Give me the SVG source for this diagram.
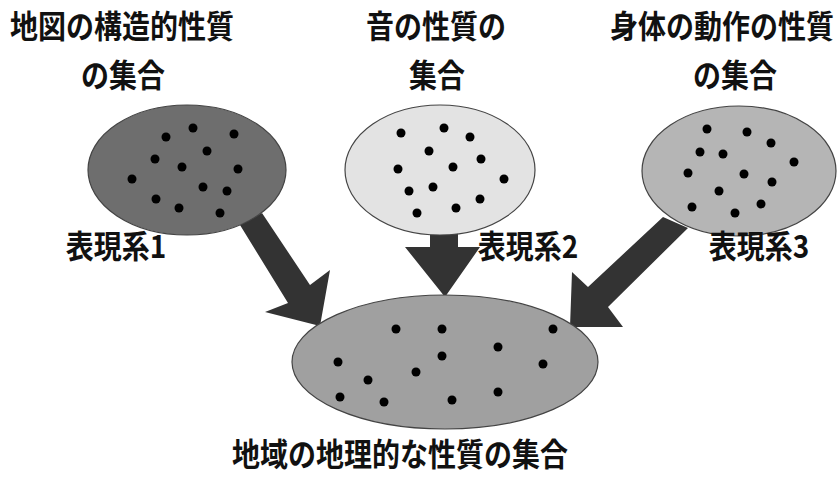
<svg xmlns="http://www.w3.org/2000/svg" width="837" height="479" viewBox="0 0 837 479">
<style>
.t{font-family:"Noto Sans CJK JP","Noto Sans CJK SC",sans-serif;font-weight:bold;font-size:28px;fill:#111;text-anchor:middle}
.arr{fill:#333333}
.el{stroke:#444;stroke-width:1.2}
.d{fill:#000}
</style>
<rect width="837" height="479" fill="#ffffff"/>
<g id="connectors">
<polygon class="arr" points="240,225 262,213 310,285 330,270 320,326 265,312 288,303"/>
<polygon class="arr" points="430,232 458,232 458,247 480,247 445,297 405,247 430,247"/>
<polygon class="arr" points="663,217 688,228 608,307 623,327 570,327 572,272 588,287"/>
</g>
<g id="set1">
<ellipse class="el" cx="187" cy="170" rx="99" ry="65" fill="#6e6e6e"/>
<g class="d">
<circle cx="193" cy="128" r="4.5"/><circle cx="166" cy="137" r="4.5"/><circle cx="234" cy="134" r="4.5"/>
<circle cx="207" cy="151" r="4.5"/><circle cx="155" cy="159" r="4.5"/><circle cx="182" cy="167" r="4.5"/>
<circle cx="238" cy="169" r="4.5"/><circle cx="132" cy="179" r="4.5"/><circle cx="203" cy="187" r="4.5"/>
<circle cx="227" cy="191" r="4.5"/><circle cx="156" cy="199" r="4.5"/><circle cx="179" cy="208" r="4.5"/>
<circle cx="220" cy="213" r="4.5"/>
</g>
<text class="t" transform="translate(122,38) scale(1,1.12)">地図の構造的性質</text>
<text class="t" transform="translate(123,87) scale(1,1.12)">の集合</text>
<text class="t" transform="translate(116,258) scale(1,1.12)">表現系1</text>
</g>
<g id="set2">
<ellipse class="el" cx="440" cy="170" rx="95" ry="65" fill="#e3e3e3"/>
<g class="d">
<circle cx="401" cy="133" r="4.5"/><circle cx="444" cy="128" r="4.5"/><circle cx="470" cy="137" r="4.5"/>
<circle cx="429" cy="151" r="4.5"/><circle cx="481" cy="159" r="4.5"/><circle cx="398" cy="169" r="4.5"/>
<circle cx="453" cy="167" r="4.5"/><circle cx="504" cy="179" r="4.5"/><circle cx="409" cy="191" r="4.5"/>
<circle cx="433" cy="187" r="4.5"/><circle cx="480" cy="199" r="4.5"/><circle cx="417" cy="213" r="4.5"/>
<circle cx="456" cy="208" r="4.5"/>
</g>
<text class="t" transform="translate(436,38) scale(1,1.12)">音の性質の</text>
<text class="t" transform="translate(437,87) scale(1,1.12)">集合</text>
<text class="t" transform="translate(528,258) scale(1,1.12)">表現系2</text>
</g>
<g id="set3">
<ellipse class="el" cx="739" cy="171" rx="97" ry="65" fill="#b5b5b5"/>
<g class="d">
<circle cx="707" cy="129" r="4.5"/><circle cx="747" cy="132" r="4.5"/><circle cx="771" cy="143" r="4.5"/>
<circle cx="700" cy="152" r="4.5"/><circle cx="723" cy="154" r="4.5"/><circle cx="794" cy="162" r="4.5"/>
<circle cx="688" cy="173" r="4.5"/><circle cx="744" cy="174" r="4.5"/><circle cx="772" cy="182" r="4.5"/>
<circle cx="719" cy="191" r="4.5"/><circle cx="692" cy="207" r="4.5"/><circle cx="735" cy="213" r="4.5"/>
<circle cx="761" cy="204" r="4.5"/>
</g>
<text class="t" transform="translate(722,38) scale(1,1.12)">身体の動作の性質</text>
<text class="t" transform="translate(735,87) scale(1,1.12)">の集合</text>
<text class="t" transform="translate(759,258) scale(1,1.12)">表現系3</text>
</g>
<g id="geo">
<ellipse class="el" cx="445" cy="362" rx="153" ry="67" fill="#a0a0a0"/>
<g class="d">
<circle cx="396" cy="329" r="4.5"/><circle cx="442" cy="329" r="4.5"/><circle cx="553" cy="329" r="4.5"/>
<circle cx="498" cy="347" r="4.5"/><circle cx="442" cy="356" r="4.5"/><circle cx="338" cy="362" r="4.5"/>
<circle cx="543" cy="364" r="4.5"/><circle cx="416" cy="372" r="4.5"/><circle cx="368" cy="380" r="4.5"/>
<circle cx="340" cy="397" r="4.5"/><circle cx="384" cy="402" r="4.5"/><circle cx="452" cy="400" r="4.5"/>
<circle cx="498" cy="392" r="4.5"/>
</g>
<text class="t" transform="translate(400,466) scale(1,1.12)">地域の地理的な性質の集合</text>
</g>
</svg>
